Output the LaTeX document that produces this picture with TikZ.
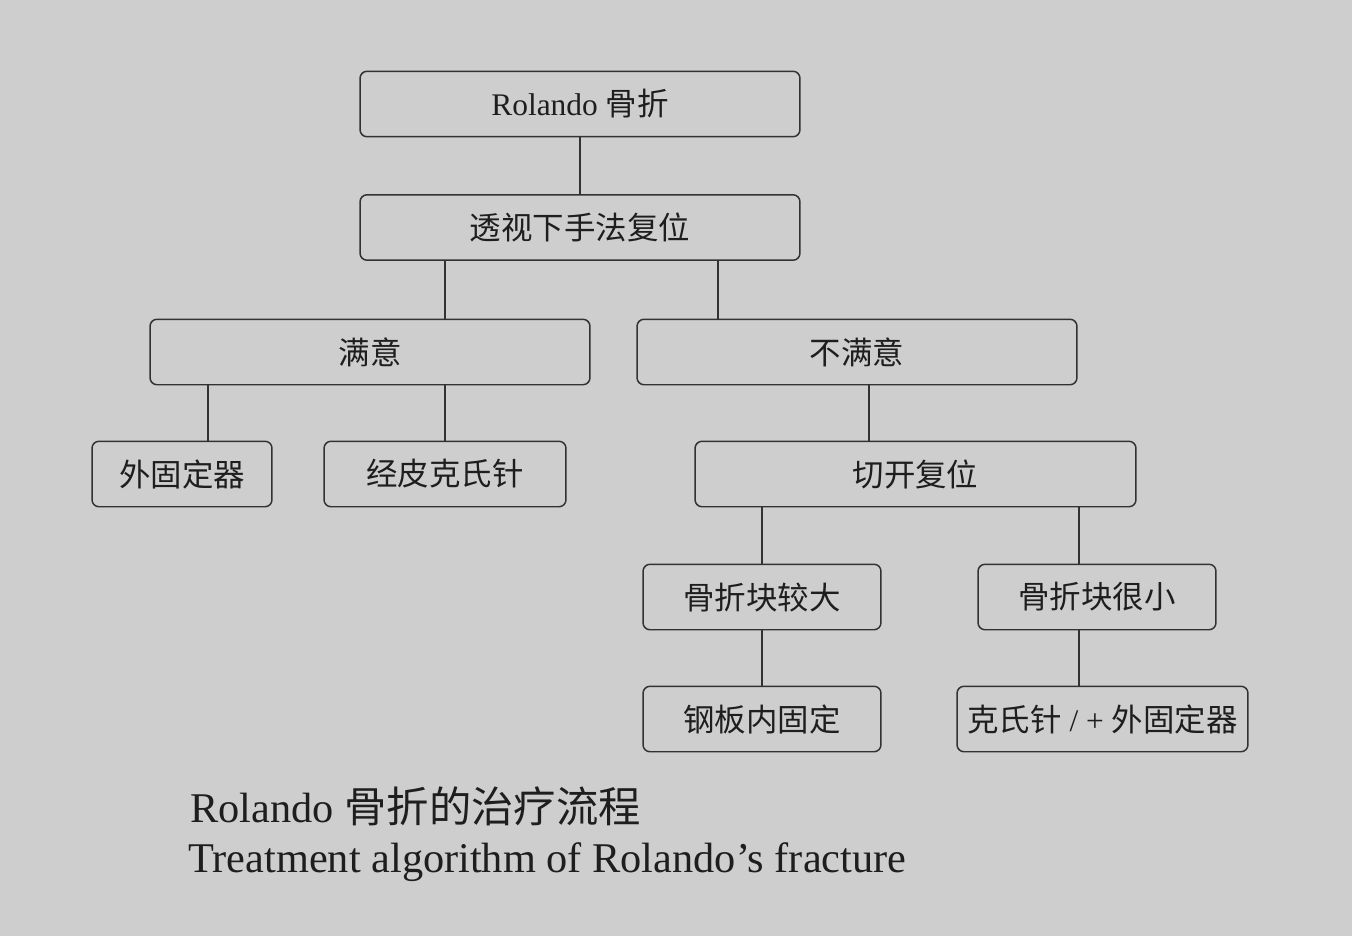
\documentclass[tikz,border=0pt]{standalone}
\usepackage{fontspec}
\setmainfont{Liberation Serif}
\newfontfamily\cjk{Noto Sans CJK SC}
\definecolor{bggray}{RGB}{206,206,206}
\definecolor{edgegray}{RGB}{50,50,50}
\definecolor{inkgray}{RGB}{30,30,30}

\begin{document}
\begin{tikzpicture}[
x=0.02cm, y=-0.02cm,
box/.style={draw=edgegray, line width=0.85pt, rounded corners=0.14cm,
  minimum height=1.31cm, text=inkgray, inner sep=0pt,
  font=\fontsize{17.9pt}{21pt}\selectfont},
link/.style={draw=edgegray, line width=0.85pt},
caption/.style={anchor=west, text=inkgray, inner sep=0pt,
  font=\fontsize{24.1pt}{28pt}\selectfont}
]

%%%%%%%%%%%%%%%%%%%%%%%%%%%%%%%%%%%%%%%%%%%%%%%%%%%%%%
% BACKGROUND
%%%%%%%%%%%%%%%%%%%%%%%%%%%%%%%%%%%%%%%%%%%%%%%%%%%%%%

\fill[bggray] (0,0) rectangle (1352,936);
\useasboundingbox (0,0) rectangle (1352,936);

%%%%%%%%%%%%%%%%%%%%%%%%%%%%%%%%%%%%%%%%%%%%%%%%%%%%%%
% TOP LEVELS
%%%%%%%%%%%%%%%%%%%%%%%%%%%%%%%%%%%%%%%%%%%%%%%%%%%%%%

\node[box, minimum width=8.8cm](rolando) at (580,104) {Rolando {\cjk 骨折}};

\node[box, minimum width=8.8cm](reduce) at (580,227.5) {\cjk 透视下手法复位};

\node[box, minimum width=8.8cm](good) at (370,352) {\cjk 满意};

\node[box, minimum width=8.8cm](bad) at (857,352) {\cjk 不满意};

%%%%%%%%%%%%%%%%%%%%%%%%%%%%%%%%%%%%%%%%%%%%%%%%%%%%%%
% SATISFIED BRANCH
%%%%%%%%%%%%%%%%%%%%%%%%%%%%%%%%%%%%%%%%%%%%%%%%%%%%%%

\node[box, minimum width=3.6cm](fixator) at (182,474) {\cjk 外固定器};

\node[box, minimum width=4.84cm](pinning) at (445,474) {\cjk 经皮克氏针};

%%%%%%%%%%%%%%%%%%%%%%%%%%%%%%%%%%%%%%%%%%%%%%%%%%%%%%
% UNSATISFIED BRANCH
%%%%%%%%%%%%%%%%%%%%%%%%%%%%%%%%%%%%%%%%%%%%%%%%%%%%%%

\node[box, minimum width=8.82cm](open) at (915.5,474) {\cjk 切开复位};

\node[box, minimum width=4.76cm](large) at (762,597) {\cjk 骨折块较大};

\node[box, minimum width=4.76cm](small) at (1097,597) {\cjk 骨折块很小};

\node[box, minimum width=4.76cm](plate) at (762,719) {\cjk 钢板内固定};

\node[box, minimum width=5.82cm](wires) at (1102.5,719) {{\cjk 克氏针} / + {\cjk 外固定器}};

%%%%%%%%%%%%%%%%%%%%%%%%%%%%%%%%%%%%%%%%%%%%%%%%%%%%%%
% CAPTION
%%%%%%%%%%%%%%%%%%%%%%%%%%%%%%%%%%%%%%%%%%%%%%%%%%%%%%

\node[caption](titlecn) at (190,806) {Rolando {\cjk 骨折的治疗流程}};

\node[caption](titleen) at (188,862) {Treatment algorithm of Rolando’s fracture};

%%%%%%%%%%%%%%%%%%%%%%%%%%%%%%%%%%%%%%%%%%%%%%%%%%%%%%
% LINES
%%%%%%%%%%%%%%%%%%%%%%%%%%%%%%%%%%%%%%%%%%%%%%%%%%%%%%

\coordinate (xa) at (445,0);
\coordinate (xb) at (718,0);
\coordinate (xc) at (208,0);
\coordinate (xd) at (869,0);
\coordinate (xe) at (1079,0);

\draw[link] (rolando)--(reduce);

\draw[link] (reduce.south -| xa)--(good.north -| xa);
\draw[link] (reduce.south -| xb)--(bad.north -| xb);

\draw[link] (good.south -| xc)--(fixator.north -| xc);
\draw[link] (good.south -| xa)--(pinning);

\draw[link] (bad.south -| xd)--(open.north -| xd);

\draw[link] (open.south -| large)--(large);
\draw[link] (open.south -| xe)--(small.north -| xe);

\draw[link] (large)--(plate);
\draw[link] (small.south -| xe)--(wires.north -| xe);

\end{tikzpicture}
\end{document}
